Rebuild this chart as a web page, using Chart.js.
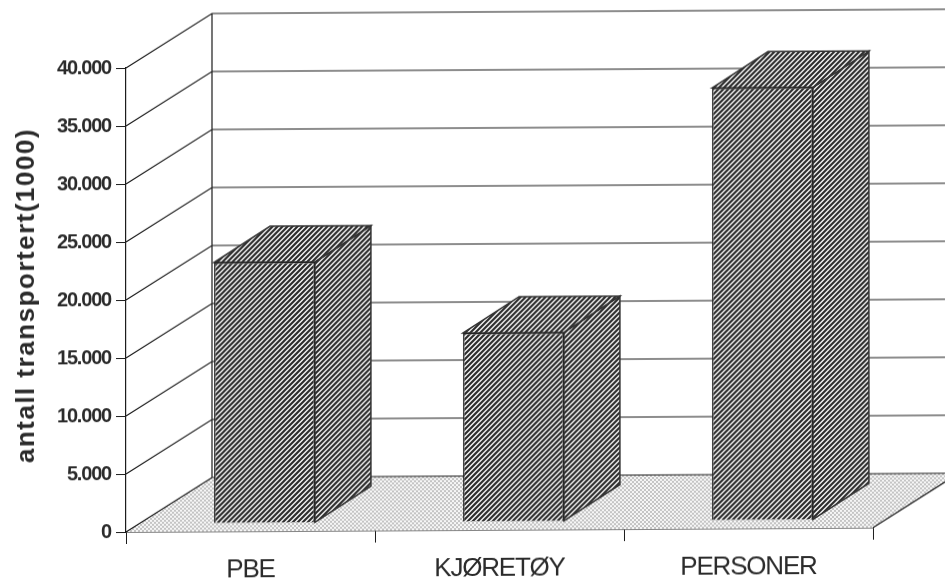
<!DOCTYPE html>
<html>
<head>
<meta charset="utf-8">
<style>
  html, body { margin: 0; padding: 0; background: #fff; overflow: hidden; }
  #wrap { width: 945px; height: 581px; }
  #grafico { filter: blur(0.3px); transform: skewY(-0.33deg); transform-origin: 126px 0; }
</style>
</head>
<body>
<div id="wrap"><canvas id="grafico"></canvas></div>
<script src="https://cdn.jsdelivr.net/npm/chart.js@4/dist/chart.umd.min.js"></script>
<script>
const categorias = ["PBE", "KJØRETØY", "PERSONER"];
const valores = [22500, 16300, 37300];
const tituloY = "antall transportert(1000)";
const maxY = 40000;
const passoY = 5000;

const corTexto = "#2b2b2b";
const corLinha = "#1c1c1c";

// profundidade do "3D" em pixels
const chao = { dx: 86, dy: -54 };
const barra = { dx: 56, dy: -36, recuoX: 14, recuoY: -8 };

// hachura das barras
function criarHachura() {
  const c = document.createElement("canvas");
  c.width = 5;
  c.height = 5;
  const p = c.getContext("2d");
  p.fillStyle = "#f4f4f4";
  p.fillRect(0, 0, 5, 5);
  p.strokeStyle = "#2b2b2b";
  p.lineWidth = 2.1;
  p.beginPath();
  p.moveTo(-1, 6); p.lineTo(6, -1);
  p.moveTo(-1, 1); p.lineTo(1, -1);
  p.moveTo(4, 6); p.lineTo(6, 4);
  p.stroke();
  return document.getElementById("grafico").getContext("2d").createPattern(c, "repeat");
}

// pontilhado do chão
function criarPontos() {
  const c = document.createElement("canvas");
  c.width = 4;
  c.height = 4;
  const p = c.getContext("2d");
  p.fillStyle = "#f6f6f6";
  p.fillRect(0, 0, 4, 4);
  p.fillStyle = "#c4c4c4";
  p.fillRect(0, 0, 2, 2);
  p.fillRect(2, 2, 2, 2);
  return document.getElementById("grafico").getContext("2d").createPattern(c, "repeat");
}

const hachura = criarHachura();
const pontos = criarPontos();

function poligono(ctx, pts, fill, stroke, largura) {
  ctx.beginPath();
  pts.forEach((p, i) => (i ? ctx.lineTo(p[0], p[1]) : ctx.moveTo(p[0], p[1])));
  ctx.closePath();
  if (fill) {
    ctx.fillStyle = fill;
    ctx.fill();
  }
  if (stroke) {
    ctx.strokeStyle = stroke;
    ctx.lineWidth = largura;
    ctx.stroke();
  }
}

const plugin3d = {
  id: "plugin3d",
  beforeDraw(chart) {
    chart.ctx.letterSpacing = "-1.2px";
  },
  beforeDatasetsDraw(chart) {
    const { ctx, chartArea: a, scales: { y } } = chart;
    ctx.save();

    // chão
    const y0 = y.getPixelForValue(0);
    poligono(ctx, [[a.left, y0], [a.right, y0], [a.right + chao.dx, y0 + chao.dy], [a.left + chao.dx, y0 + chao.dy]], pontos);

    // paredes e linhas de grade
    ctx.strokeStyle = corLinha;
    ctx.lineWidth = 1.2;
    ctx.beginPath();
    y.ticks.forEach((t) => {
      const py = y.getPixelForValue(t.value);
      ctx.moveTo(a.left, py);
      ctx.lineTo(a.left + chao.dx, py + chao.dy);
      ctx.lineTo(a.right + chao.dx, py + chao.dy);
    });
    ctx.moveTo(a.left + chao.dx, a.top + chao.dy);
    ctx.lineTo(a.left + chao.dx, y0 + chao.dy);
    ctx.moveTo(a.right, y0);
    ctx.lineTo(a.right + chao.dx, y0 + chao.dy);
    ctx.stroke();

    // faces de cima e do lado das barras
    chart.getDatasetMeta(0).data.forEach((b) => {
      const esq = b.x - b.width / 2 + barra.recuoX;
      const dir = b.x + b.width / 2 + barra.recuoX;
      const topo = b.y + barra.recuoY;
      const base = b.base + barra.recuoY;
      poligono(ctx, [[dir, topo], [dir + barra.dx, topo + barra.dy], [dir + barra.dx, base + barra.dy], [dir, base]], hachura, "#333", 1.5);
      poligono(ctx, [[esq, topo], [esq + barra.dx, topo + barra.dy], [dir + barra.dx, topo + barra.dy], [dir, topo]], hachura, "#333", 1.5);
    });
    ctx.restore();
  },
  beforeDatasetDraw(chart) {
    chart.ctx.save();
    chart.ctx.translate(barra.recuoX, barra.recuoY);
  },
  afterDatasetDraw(chart) {
    chart.ctx.restore();
  },
  afterDraw(chart) {
    const { ctx } = chart;
    ctx.save();
    ctx.translate(27, 295);
    ctx.rotate(-Math.PI / 2);
    ctx.letterSpacing = "1.5px";
    ctx.font = "bold 26px 'Liberation Sans'";
    ctx.fillStyle = corTexto;
    ctx.textAlign = "center";
    ctx.textBaseline = "middle";
    ctx.fillText(tituloY, 0, 0);
    ctx.restore();
  },
};

const config = {
  type: "bar",
  data: {
    labels: categorias,
    datasets: [
      {
        data: valores,
        backgroundColor: hachura,
        borderColor: "#222",
        borderWidth: 1.5,
        categoryPercentage: 0.405,
        barPercentage: 1,
        clip: false,
      },
    ],
  },
  options: {
    responsive: false,
    animation: false,
    devicePixelRatio: 1,
    layout: { padding: { left: 0, right: 72, top: 68, bottom: 0 } },
    plugins: {
      legend: { display: false },
      tooltip: { enabled: false },
    },
    scales: {
      y: {
        min: 0,
        max: maxY,
        afterFit: (s) => { s.width = 126; },
        ticks: {
          stepSize: passoY,
          padding: 5,
          color: corTexto,
          font: { family: "'Liberation Sans'", size: 20, weight: "bold" },
          callback: (v) => String(v).replace(/\B(?=(\d{3})+$)/g, "."),
        },
        border: { color: corLinha, width: 1.2 },
        grid: { drawOnChartArea: false, color: corLinha, tickLength: 10 },
      },
      x: {
        afterFit: (s) => { s.height = 49; },
        ticks: {
          padding: 11,
          color: corTexto,
          maxRotation: 0,
          font: { family: "'Liberation Sans'", size: 26 },
        },
        border: { color: "#111", width: 1.5, dash: [3, 1] },
        grid: { drawOnChartArea: false, color: corLinha, tickLength: 12 },
      },
    },
  },
};

const canvas = document.getElementById("grafico");
canvas.width = 945;
canvas.height = 581;
const grafico = new Chart(canvas, { ...config, plugins: [plugin3d] });
</script>
</body>
</html>
